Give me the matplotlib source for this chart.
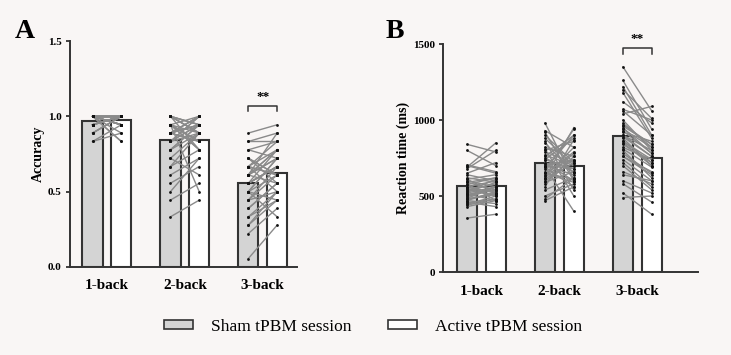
import numpy as np
import matplotlib
matplotlib.use("Agg")
import matplotlib.pyplot as plt
from matplotlib.patches import Patch

plt.rcParams["font.family"] = ["Liberation Serif", "DejaVu Serif"]

conditions = ["1-back", "2-back", "3-back"]

# bar heights (group means)
acc_sham_mean = [0.97, 0.84, 0.56]
acc_active_mean = [0.975, 0.84, 0.625]
rt_sham_mean = [565, 715, 895]
rt_active_mean = [565, 700, 750]

# individual subjects, accuracy
acc_sham_1 = [1.0, 1.0, 0.944, 1.0, 1.0, 0.889, 1.0, 1.0, 0.944, 1.0,
              1.0, 0.833, 1.0, 0.944, 1.0, 1.0, 1.0, 0.944, 1.0, 0.889,
              1.0, 1.0, 0.944, 1.0, 0.833, 1.0, 1.0, 0.944, 1.0, 1.0,
              0.944, 1.0, 0.889, 1.0, 0.944, 1.0, 1.0, 0.944, 1.0, 0.944]
acc_active_1 = [1.0, 0.944, 1.0, 1.0, 0.944, 1.0, 1.0, 0.833, 1.0, 1.0,
                0.944, 0.889, 1.0, 1.0, 1.0, 0.944, 1.0, 1.0, 0.889, 1.0,
                1.0, 0.944, 1.0, 1.0, 0.944, 1.0, 0.833, 1.0, 1.0, 0.944,
                1.0, 1.0, 1.0, 0.944, 1.0, 1.0, 0.944, 1.0, 1.0, 1.0]
acc_sham_2 = [1.0, 0.944, 0.889, 0.833, 1.0, 0.722, 0.944, 0.889, 0.611, 1.0,
              0.889, 0.778, 0.944, 0.556, 0.833, 1.0, 0.944, 0.667, 0.889, 0.944,
              0.333, 0.833, 1.0, 0.889, 0.722, 0.944, 0.778, 0.5, 0.889, 1.0,
              0.833, 0.944, 0.444, 0.889, 0.778, 0.944, 0.667, 0.833, 1.0, 0.889]
acc_active_2 = [0.944, 1.0, 0.833, 0.889, 0.944, 0.889, 0.778, 1.0, 0.722, 0.944,
                0.833, 0.944, 0.889, 0.667, 1.0, 0.889, 0.5, 0.778, 0.944, 0.833,
                0.444, 0.944, 0.889, 1.0, 0.611, 0.833, 0.944, 0.722, 0.944, 0.889,
                1.0, 0.778, 0.556, 0.944, 0.889, 0.833, 0.889, 0.944, 0.778, 1.0]
acc_sham_3 = [0.556, 0.611, 0.889, 0.444, 0.667, 0.5, 0.833, 0.278, 0.611, 0.722,
              0.389, 0.556, 0.667, 0.222, 0.778, 0.5, 0.611, 0.333, 0.556, 0.667,
              0.056, 0.722, 0.444, 0.611, 0.833, 0.5, 0.278, 0.667, 0.556, 0.389,
              0.611, 0.722, 0.5, 0.444, 0.778, 0.611, 0.333, 0.556, 0.667, 0.5]
acc_active_3 = [0.667, 0.889, 0.944, 0.5, 0.611, 0.722, 0.833, 0.444, 0.778, 0.611,
                0.556, 0.667, 0.5, 0.389, 0.722, 0.611, 0.778, 0.444, 0.667, 0.833,
                0.278, 0.556, 0.611, 0.722, 0.889, 0.333, 0.5, 0.778, 0.667, 0.556,
                0.722, 0.611, 0.444, 0.667, 0.833, 0.556, 0.5, 0.778, 0.611, 0.722]

# individual subjects, reaction time (ms)
rt_sham_1 = [520, 610, 455, 700, 480, 560, 840, 430, 590, 505,
             650, 470, 540, 355, 620, 500, 580, 690, 445, 530,
             800, 560, 485, 610, 515, 470, 640, 550, 495, 575,
             680, 440, 525, 600, 460, 545, 705, 510, 590, 480]
rt_active_1 = [560, 520, 480, 650, 510, 600, 790, 470, 540, 560,
               720, 450, 580, 380, 590, 540, 470, 850, 500, 610,
               700, 520, 560, 640, 470, 530, 600, 500, 560, 620,
               800, 480, 590, 560, 430, 505, 660, 545, 620, 520]
rt_sham_2 = [700, 820, 600, 930, 650, 760, 480, 690, 880, 620,
             740, 980, 560, 700, 810, 640, 590, 900, 720, 660,
             470, 770, 630, 850, 690, 580, 740, 920, 610, 700,
             790, 540, 680, 860, 620, 750, 500, 710, 800, 650]
rt_active_2 = [640, 760, 720, 820, 590, 900, 620, 560, 700, 950,
               680, 610, 870, 740, 500, 790, 660, 720, 600, 940,
               560, 700, 820, 650, 400, 760, 880, 600, 740, 680,
               720, 620, 900, 540, 780, 660, 580, 730, 860, 610]
rt_sham_3 = [1350, 900, 760, 1220, 980, 640, 880, 1070, 820, 490,
             950, 1180, 720, 860, 1040, 580, 920, 800, 1260, 700,
             1000, 850, 520, 940, 760, 1120, 890, 660, 970, 810,
             1200, 740, 930, 600, 860, 1060, 780, 900, 840, 960]
rt_active_3 = [1060, 760, 640, 900, 820, 600, 700, 1000, 740, 500,
               780, 880, 560, 720, 1090, 460, 860, 620, 940, 540,
               800, 700, 380, 820, 660, 980, 760, 580, 840, 690,
               1010, 600, 780, 520, 740, 900, 650, 800, 720, 840]

bg = "#f9f6f5"
edge = "#333333"
sham_color = "#d4d4d4"
line_color = "#8a8a8a"
bar_w = 0.26
offset = 0.185

fig = plt.figure(figsize=(7.31, 3.55), dpi=100, facecolor=bg)
axA = fig.add_axes([0.0958, 0.2479, 0.3105, 0.6366])
axB = fig.add_axes([0.606, 0.2338, 0.349, 0.6422])


def draw_panel(ax, sham_mean, active_mean, sham_pts, active_pts):
    x = np.arange(1, len(conditions) + 1)
    ax.bar(x - offset, sham_mean, width=bar_w, color=sham_color,
           edgecolor=edge, linewidth=1.5, zorder=1)
    ax.bar(x + offset, active_mean, width=bar_w, color="white",
           edgecolor=edge, linewidth=1.5, zorder=1)
    for i in range(len(conditions)):
        for s, a in zip(sham_pts[i], active_pts[i]):
            ax.plot([x[i] - offset, x[i] + offset], [s, a], color=line_color,
                    linewidth=1.0, zorder=2)
        ax.scatter(np.full(len(sham_pts[i]), x[i] - offset), sham_pts[i],
                   s=4, color="#111111", zorder=3, linewidths=0)
        ax.scatter(np.full(len(active_pts[i]), x[i] + offset), active_pts[i],
                   s=4, color="#111111", zorder=3, linewidths=0)
    ax.set_xticks(x)
    ax.set_xticklabels(conditions, fontsize=11, fontweight="bold")
    ax.tick_params(axis="x", length=0, pad=9)
    ax.tick_params(axis="y", length=3, width=1.3, color=edge, pad=3,
                   labelsize=8)
    for side in ["top", "right"]:
        ax.spines[side].set_visible(False)
    for side in ["left", "bottom"]:
        ax.spines[side].set_color(edge)
        ax.spines[side].set_linewidth(1.4)
    ax.set_facecolor("none")


def bracket(ax, x0, x1, y, drop):
    ax.plot([x0, x0, x1, x1], [y - drop, y, y, y - drop], color=edge,
            linewidth=1.1, clip_on=False)
    ax.text((x0 + x1) / 2, y + drop * 0.6, "**", ha="center", va="bottom",
            fontsize=9.5, fontweight="bold", clip_on=False)


draw_panel(axA, acc_sham_mean, acc_active_mean,
           [acc_sham_1, acc_sham_2, acc_sham_3],
           [acc_active_1, acc_active_2, acc_active_3])
axA.set_xlim(0.526, 3.44)
axA.set_ylim(0, 1.5)
axA.set_yticks([0, 0.5, 1.0, 1.5])
axA.set_yticklabels(["0.0", "0.5", "1.0", "1.5"], fontweight="bold")
axA.set_ylabel("Accuracy", fontsize=10, fontweight="bold", labelpad=2)
bracket(axA, 3 - offset, 3 + offset, 1.07, 0.035)

draw_panel(axB, rt_sham_mean, rt_active_mean,
           [rt_sham_1, rt_sham_2, rt_sham_3],
           [rt_active_1, rt_active_2, rt_active_3])
axB.set_xlim(0.506, 3.78)
axB.set_ylim(0, 1500)
axB.set_yticks([0, 500, 1000, 1500])
axB.set_yticklabels(["0", "500", "1000", "1500"], fontweight="bold")
axB.set_ylabel("Reaction time (ms)", fontsize=10, fontweight="bold",
               labelpad=2)
bracket(axB, 3 - offset, 3 + offset, 1474, 38)

fig.text(0.02, 0.91, "A", fontsize=20, fontweight="bold", ha="left",
         va="center")
fig.text(0.528, 0.91, "B", fontsize=20, fontweight="bold", ha="left",
         va="center")

handles = [Patch(facecolor=sham_color, edgecolor=edge, linewidth=1.2),
           Patch(facecolor="white", edgecolor=edge, linewidth=1.2)]
fig.legend(handles, ["Sham tPBM session", "Active tPBM session"],
           loc="center", bbox_to_anchor=(0.51, 0.08), ncol=2, frameon=False,
           fontsize=12.5, handlelength=1.7, handleheight=0.45,
           handletextpad=1.0, columnspacing=2.1)

fig.savefig("out.png", dpi=100, facecolor=bg)
